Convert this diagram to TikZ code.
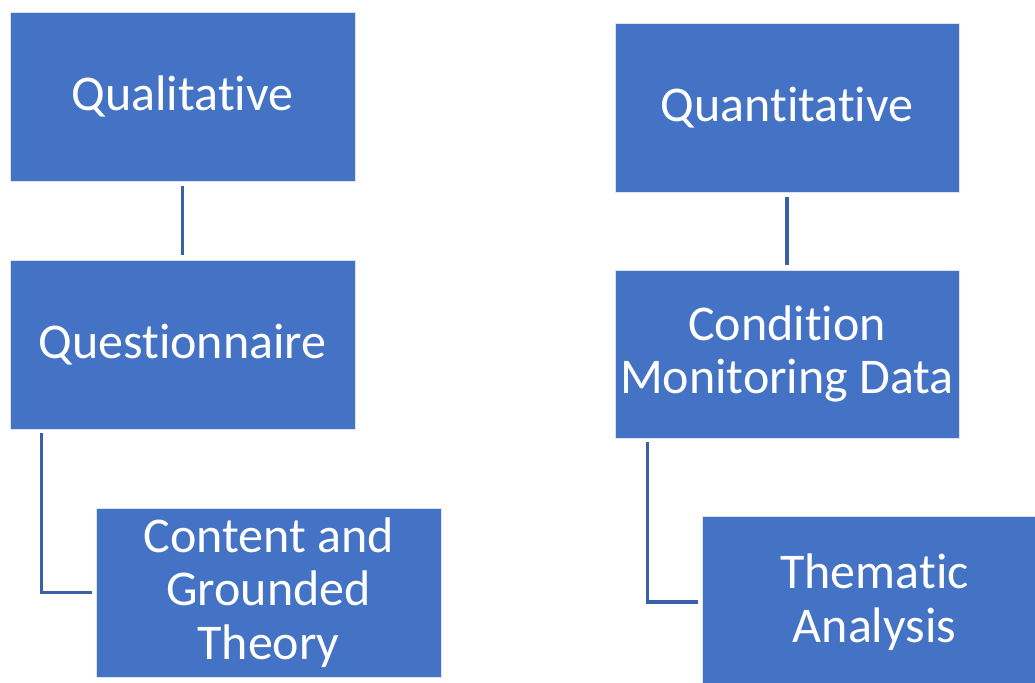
\documentclass[tikz,border=0pt]{standalone}
\usepackage{fontspec}
\setmainfont[Ligatures=NoCommon]{Carlito}
\definecolor{boxblue}{HTML}{4472C4}
\definecolor{lineblue}{RGB}{60,95,170}
\tikzset{
  box/.style={rectangle, fill=boxblue, draw=white!80!boxblue, line width=0.8pt, text=white, align=center, inner sep=0pt,
    font={\fontsize{50}{53.5}\selectfont}},
  conn/.style={draw=lineblue, line width=3.5pt}
}
\begin{document}
\begin{tikzpicture}[x=1pt,y=-1pt]
\useasboundingbox (0,0) rectangle (1035,682);
\node[box, minimum width=345pt, minimum height=169pt] (qual) at (182.5,96.5) {Qualitative};
\node[box, minimum width=345pt, minimum height=169pt] (ques) at (182.5,344.5) {Questionnaire};
\node[box, minimum width=345pt, minimum height=169pt] (cont) at (268.5,592.5) {Content and\\Grounded\\Theory};
\node[box, minimum width=344pt, minimum height=169pt] (quan) at (787,107.5) {Quantitative};
\node[box, minimum width=344pt, minimum height=168pt] (cond) at (787,354) {Condition\\Monitoring Data};
\node[box, minimum width=345pt, minimum height=172pt] (them) at (874.5,602) {Thematic\\Analysis};
\draw[conn] ([yshift=-5pt]qual.south) -- ([yshift=5pt]ques.north);
\draw[conn] ([yshift=-5pt]quan.south) -- ([yshift=5pt]cond.north);
\draw[conn] ([xshift=32pt,yshift=-4pt]ques.south west) |- ([xshift=-4pt]cont.west);
\draw[conn] ([xshift=33pt,yshift=-4pt]cond.south west) |- ([xshift=-4pt]them.west);
\end{tikzpicture}
\end{document}
